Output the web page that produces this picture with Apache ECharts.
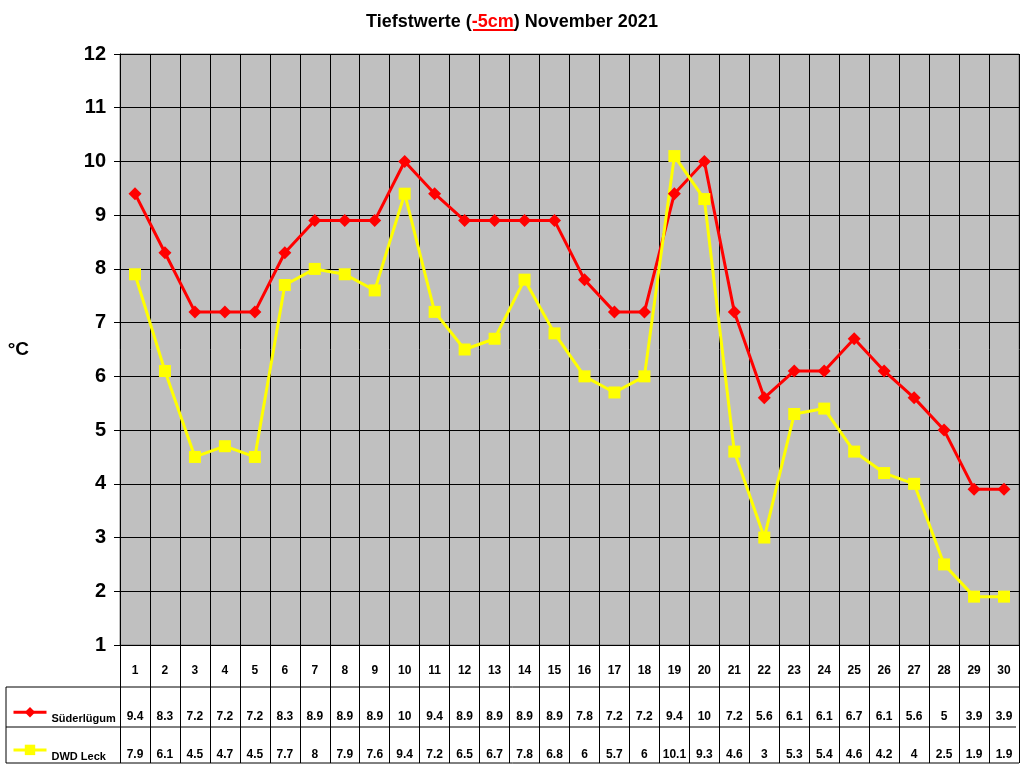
<!DOCTYPE html>
<html>
<head>
<meta charset="utf-8">
<script src="https://cdn.jsdelivr.net/npm/echarts@6/dist/echarts.min.js"></script>
<style>
  html, body { margin: 0; padding: 0; background: #fff; }
  #main { width: 1024px; height: 768px; }
</style>
</head>
<body>
<div id="main"></div>
<script>
// days of November 2021
let days = [];
for (let d = 1; d <= 30; d++) days.push(String(d));

let suederluegum = [9.4, 8.3, 7.2, 7.2, 7.2, 8.3, 8.9, 8.9, 8.9, 10, 9.4, 8.9, 8.9, 8.9, 8.9,
    7.8, 7.2, 7.2, 9.4, 10, 7.2, 5.6, 6.1, 6.1, 6.7, 6.1, 5.6, 5, 3.9, 3.9];
let dwdLeck = [7.9, 6.1, 4.5, 4.7, 4.5, 7.7, 8, 7.9, 7.6, 9.4, 7.2, 6.5, 6.7, 7.8, 6.8,
    6, 5.7, 6, 10.1, 9.3, 4.6, 3, 5.3, 5.4, 4.6, 4.2, 4, 2.5, 1.9, 1.9];

let font = "Arial, 'Liberation Sans', sans-serif";

let myChart = echarts.init(document.getElementById("main"));

// table text rows are extra x axes on the same grid
function tableAxis(values, margin) {
    return {
        type: "category",
        data: days,
        position: "bottom",
        axisLine: { show: false },
        axisTick: { show: false },
        splitLine: { show: false },
        axisLabel: {
            margin: margin,
            interval: 0,
            color: "#000",
            fontFamily: font,
            fontWeight: "bold",
            fontSize: 12,
            formatter: (v, i) => String(values[i])
        }
    };
}

let option = {
    animation: false,
    title: {
        text: "Tiefstwerte ({r|-5cm}) November 2021",
        left: "center",
        top: 8,
        textStyle: {
            fontFamily: font,
            fontWeight: "bold",
            fontSize: 18,
            color: "#000",
            rich: {
                r: { color: "#FF0000", fontFamily: font, fontWeight: "bold", fontSize: 18 }
            }
        }
    },
    legend: {
        orient: "vertical",
        left: 12,
        top: 707,
        padding: 0,
        itemGap: 20,
        itemWidth: 33,
        itemHeight: 13,
        formatter: "{a|{name}}",
        lineStyle: { width: 3 },
        textStyle: {
            fontFamily: font,
            fontWeight: "bold",
            fontSize: 11,
            color: "#000",
            rich: {
                a: { fontFamily: font, fontWeight: "bold", fontSize: 11, color: "#000", padding: [14, 0, 0, 0] }
            }
        },
        data: ["Süderlügum", "DWD Leck"]
    },
    grid: {
        left: 120,
        right: 5,
        top: 54,
        bottom: 123,
        show: true,
        backgroundColor: "#C0C0C0",
        borderColor: "#808080",
        borderWidth: 1
    },
    xAxis: [
        {
            type: "category",
            data: days,
            boundaryGap: true,
            axisLine: { lineStyle: { color: "#000", width: 1 } },
            axisTick: { show: true, length: 118, interval: 0, lineStyle: { color: "#000" } },
            splitLine: { show: true, interval: 0, lineStyle: { color: "#000", width: 1 } },
            axisLabel: {
                margin: 20,
                interval: 0,
                color: "#000",
                fontFamily: font,
                fontWeight: "bold",
                fontSize: 12
            }
        },
        tableAxis(suederluegum, 66),
        tableAxis(dwdLeck, 104)
    ],
    yAxis: {
        type: "value",
        min: 1,
        max: 12,
        interval: 1,
        name: "°C",
        nameLocation: "middle",
        nameRotate: 0,
        nameGap: 91,
        nameTextStyle: { fontFamily: font, fontWeight: "bold", fontSize: 19, color: "#000" },
        axisLine: { show: true, lineStyle: { color: "#000" } },
        axisTick: { show: true, length: 6, lineStyle: { color: "#000" } },
        splitLine: { show: true, lineStyle: { color: "#000", width: 1 } },
        axisLabel: {
            margin: 14,
            color: "#000",
            fontFamily: font,
            fontWeight: "bold",
            fontSize: 20
        }
    },
    series: [
        {
            name: "Süderlügum",
            type: "line",
            data: suederluegum,
            symbol: "diamond",
            symbolSize: 13,
            itemStyle: { color: "#FF0000" },
            lineStyle: { color: "#FF0000", width: 3 }
        },
        {
            name: "DWD Leck",
            type: "line",
            data: dwdLeck,
            symbol: "rect",
            symbolSize: 12,
            itemStyle: { color: "#FFFF00" },
            lineStyle: { color: "#FFFF00", width: 3 }
        }
    ],
    // table frame lines and the title underline
    graphic: [
        { type: "line", shape: { x1: 6, y1: 687, x2: 1019, y2: 687 }, style: { stroke: "#000", lineWidth: 1 } },
        { type: "line", shape: { x1: 6, y1: 727, x2: 1016, y2: 727 }, style: { stroke: "#000", lineWidth: 1 } },
        { type: "line", shape: { x1: 6, y1: 763, x2: 1019, y2: 763 }, style: { stroke: "#000", lineWidth: 1 } },
        { type: "line", shape: { x1: 6, y1: 687, x2: 6, y2: 763 }, style: { stroke: "#000", lineWidth: 1 } },
        { type: "line", shape: { x1: 473, y1: 30, x2: 515, y2: 30 }, style: { stroke: "#FF0000", lineWidth: 2 } }
    ]
};

myChart.setOption(option);
</script>
</body>
</html>
